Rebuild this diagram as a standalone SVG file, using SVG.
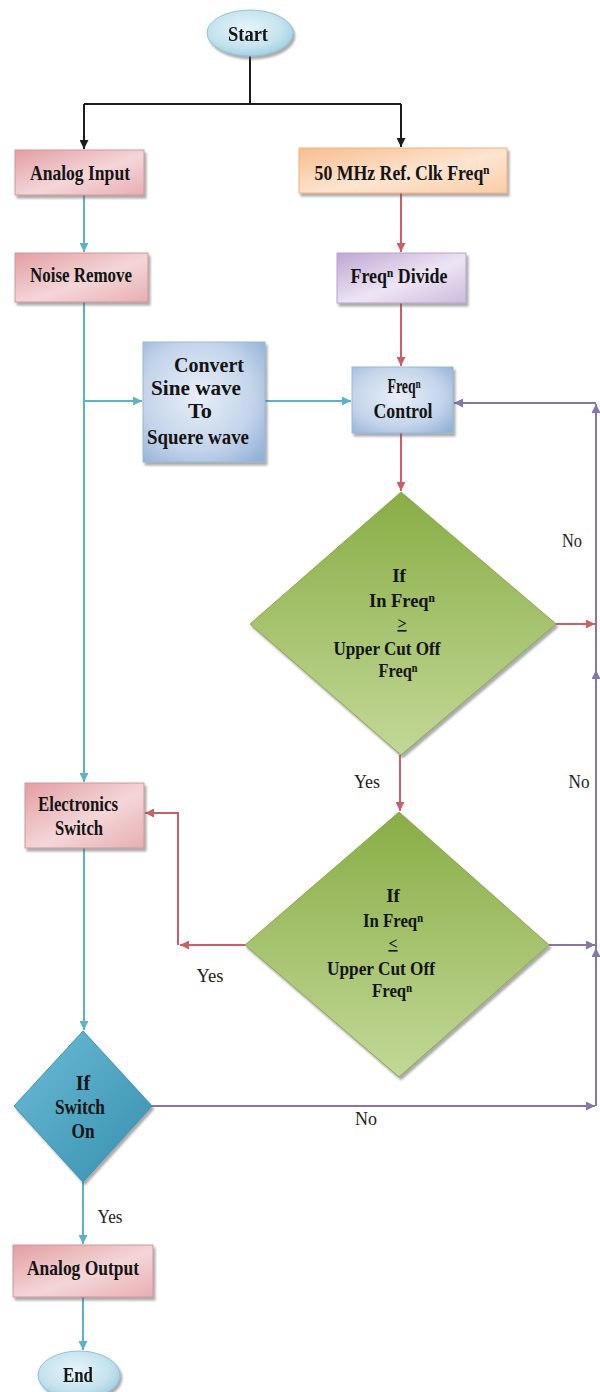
<svg xmlns="http://www.w3.org/2000/svg" width="600" height="1392" viewBox="0 0 600 1392">
  <defs>
    <style>
      .lbl{font-family:"Liberation Serif","Times New Roman",serif;font-weight:bold;font-size:21px;fill:#141414;text-anchor:middle}
      .ml{font-size:20px}
      .dm{font-size:19px}
      .op{font-size:16px;text-decoration:underline}
      .note{font-family:"Liberation Serif","Times New Roman",serif;font-size:19px;fill:#222;text-anchor:middle}
      .k{fill:none;stroke:#1c1c1c;stroke-width:2}
      .c{fill:none;stroke:#5cb3c4;stroke-width:2}
      .r{fill:none;stroke:#c95f69;stroke-width:2}
      .p{fill:none;stroke:#8676a9;stroke-width:2}
      .pink{fill:url(#gPink);stroke:#d2959a;stroke-width:1}
      .blue{fill:url(#gBlue);stroke:#9bb6d6;stroke-width:1}
      .green{fill:url(#gGreen);stroke:#8aa94e;stroke-width:1}
    </style>
    <linearGradient id="gPink" x1="0" y1="0" x2="1" y2="1">
      <stop offset="0" stop-color="#e29ea3"/>
      <stop offset="0.55" stop-color="#f4d6d7"/>
      <stop offset="1" stop-color="#e8aeb2"/>
    </linearGradient>
    <linearGradient id="gOrange" x1="0" y1="0" x2="1" y2="1">
      <stop offset="0" stop-color="#f7bd8c"/>
      <stop offset="0.55" stop-color="#fde5d0"/>
      <stop offset="1" stop-color="#f9cda6"/>
    </linearGradient>
    <linearGradient id="gPurple" x1="0" y1="0" x2="1" y2="1">
      <stop offset="0" stop-color="#bea6d3"/>
      <stop offset="0.55" stop-color="#ede5f3"/>
      <stop offset="1" stop-color="#cdbade"/>
    </linearGradient>
    <radialGradient id="gBlue" cx="0.45" cy="0.45" r="0.75">
      <stop offset="0" stop-color="#e8eff8"/>
      <stop offset="0.6" stop-color="#c3d4ea"/>
      <stop offset="1" stop-color="#8eafd6"/>
    </radialGradient>
    <linearGradient id="gGreen" x1="0" y1="0" x2="0" y2="1">
      <stop offset="0" stop-color="#89ad45"/>
      <stop offset="1" stop-color="#c2d896"/>
    </linearGradient>
    <linearGradient id="gTeal" x1="0" y1="0" x2="1" y2="1">
      <stop offset="0" stop-color="#6cbcd6"/>
      <stop offset="1" stop-color="#358fae"/>
    </linearGradient>
    <radialGradient id="gOval" cx="0.45" cy="0.4" r="0.7">
      <stop offset="0" stop-color="#e6f4f9"/>
      <stop offset="0.6" stop-color="#c4e3ee"/>
      <stop offset="1" stop-color="#93c8dc"/>
    </radialGradient>
    <filter id="sh" x="-10%" y="-10%" width="130%" height="130%">
      <feDropShadow dx="2" dy="3" stdDeviation="1.2" flood-color="#555" flood-opacity="0.5"/>
    </filter>
    <marker id="aK" viewBox="0 0 10 10" refX="10" refY="5" markerWidth="9" markerHeight="9" markerUnits="userSpaceOnUse" orient="auto">
      <path d="M0,0 L10,5 L0,10 z" fill="#1c1c1c"/>
    </marker>
    <marker id="aC" viewBox="0 0 10 10" refX="10" refY="5" markerWidth="9" markerHeight="9" markerUnits="userSpaceOnUse" orient="auto">
      <path d="M0,0 L10,5 L0,10 z" fill="#5cb3c4"/>
    </marker>
    <marker id="aR" viewBox="0 0 10 10" refX="10" refY="5" markerWidth="9" markerHeight="9" markerUnits="userSpaceOnUse" orient="auto">
      <path d="M0,0 L10,5 L0,10 z" fill="#c95f69"/>
    </marker>
    <marker id="aP" viewBox="0 0 10 10" refX="10" refY="5" markerWidth="9" markerHeight="9" markerUnits="userSpaceOnUse" orient="auto">
      <path d="M0,0 L10,5 L0,10 z" fill="#8676a9"/>
    </marker>
  </defs>

  <rect width="600" height="1392" fill="#ffffff"/>

  <!-- connectors -->
  <g id="connectors">
    <!-- start split -->
    <path class="k" d="M250,56 V104"/>
    <path class="k" d="M84,104 H401"/>
    <path class="k" d="M84,104 V149" marker-end="url(#aK)"/>
    <path class="k" d="M401,104 V147" marker-end="url(#aK)"/>
    <!-- analog path -->
    <path class="c" d="M84,195 V252" marker-end="url(#aC)"/>
    <path class="c" d="M84,302 V782" marker-end="url(#aC)"/>
    <path class="c" d="M84,401 H142" marker-end="url(#aC)"/>
    <path class="c" d="M265,401 H351" marker-end="url(#aC)"/>
    <path class="c" d="M84,848 V1030" marker-end="url(#aC)"/>
    <path class="c" d="M83,1182 V1244" marker-end="url(#aC)"/>
    <path class="c" d="M83,1297 V1350" marker-end="url(#aC)"/>
    <!-- clock path -->
    <path class="r" d="M401,193 V252" marker-end="url(#aR)"/>
    <path class="r" d="M401,303 V366" marker-end="url(#aR)"/>
    <path class="r" d="M401,433 V491" marker-end="url(#aR)"/>
    <path class="r" d="M556,624 H595" marker-end="url(#aR)"/>
    <path class="r" d="M400,755 V811" marker-end="url(#aR)"/>
    <path class="r" d="M245,945 H180" marker-end="url(#aR)"/>
    <path class="r" d="M178,945 V813 H145" marker-end="url(#aR)"/>
    <!-- feedback loop -->
    <path class="p" d="M549,945 H595" marker-end="url(#aP)"/>
    <path class="p" d="M152,1106 H595" marker-end="url(#aP)"/>
    <path class="p" d="M596,1106 V948" marker-end="url(#aP)"/>
    <path class="p" d="M596,948 V670" marker-end="url(#aP)"/>
    <path class="p" d="M596,670 V404" marker-end="url(#aP)"/>
    <path class="p" d="M596,403 H454" marker-end="url(#aP)"/>
  </g>

  <!-- edge labels -->
  <g id="labels">
    <text class="note" x="572" y="547" textLength="20" lengthAdjust="spacingAndGlyphs">No</text>
    <text class="note" x="367" y="788" textLength="26" lengthAdjust="spacingAndGlyphs">Yes</text>
    <text class="note" x="579" y="788" textLength="21" lengthAdjust="spacingAndGlyphs">No</text>
    <text class="note" x="210" y="982" textLength="27" lengthAdjust="spacingAndGlyphs">Yes</text>
    <text class="note" x="366" y="1125" textLength="22" lengthAdjust="spacingAndGlyphs">No</text>
    <text class="note" x="110" y="1223" textLength="25" lengthAdjust="spacingAndGlyphs">Yes</text>
  </g>

  <g id="start" filter="url(#sh)">
    <ellipse cx="250" cy="33" rx="43" ry="23" fill="url(#gOval)" stroke="#8fc3d6" stroke-width="1"/>
    <text class="lbl" x="248" y="41" textLength="40" lengthAdjust="spacingAndGlyphs">Start</text>
  </g>

  <g id="analog-input">
    <rect class="pink" x="15" y="150" width="129" height="45" filter="url(#sh)"/>
    <text class="lbl" x="80" y="180" textLength="100" lengthAdjust="spacingAndGlyphs">Analog Input</text>
  </g>

  <g id="ref-clock">
    <rect x="299" y="148" width="208" height="45" fill="url(#gOrange)" stroke="#efb27f" stroke-width="1" filter="url(#sh)"/>
    <text class="lbl" x="402" y="180" textLength="175" lengthAdjust="spacingAndGlyphs">50 MHz  Ref. Clk Freqⁿ</text>
  </g>

  <g id="noise-remove">
    <rect class="pink" x="15" y="253" width="133" height="49" filter="url(#sh)"/>
    <text class="lbl" x="81" y="282" textLength="102" lengthAdjust="spacingAndGlyphs">Noise Remove</text>
  </g>

  <g id="freq-divide">
    <rect x="337" y="253" width="129" height="50" fill="url(#gPurple)" stroke="#b9a3cf" stroke-width="1" filter="url(#sh)"/>
    <text class="lbl" x="399" y="283" textLength="97" lengthAdjust="spacingAndGlyphs">Freqⁿ Divide</text>
  </g>

  <g id="convert">
    <rect class="blue" x="143" y="342" width="122" height="120" filter="url(#sh)"/>
    <text class="lbl ml" x="209" y="372" textLength="70" lengthAdjust="spacingAndGlyphs">Convert</text>
    <text class="lbl ml" x="196" y="395" textLength="90" lengthAdjust="spacingAndGlyphs">Sine wave</text>
    <text class="lbl ml" x="200" y="418" textLength="24" lengthAdjust="spacingAndGlyphs">To</text>
    <text class="lbl ml" x="198" y="444" textLength="102" lengthAdjust="spacingAndGlyphs">Squere wave</text>
  </g>

  <g id="freq-control">
    <rect class="blue" x="352" y="367" width="101" height="66" filter="url(#sh)"/>
    <text class="lbl ml" x="404" y="393" textLength="33" lengthAdjust="spacingAndGlyphs">Freqⁿ</text>
    <text class="lbl ml" x="403" y="418" textLength="59" lengthAdjust="spacingAndGlyphs">Control</text>
  </g>

  <g id="check-upper">
    <polygon class="green" points="401,492 556,624 401,755 250,624" filter="url(#sh)"/>
    <text class="lbl dm" x="399" y="582">If</text>
    <text class="lbl dm" x="402" y="607" textLength="66" lengthAdjust="spacingAndGlyphs">In Freqⁿ</text>
    <text class="lbl op" x="402" y="629">&gt;</text>
    <text class="lbl dm" x="387" y="655" textLength="107" lengthAdjust="spacingAndGlyphs">Upper Cut Off</text>
    <text class="lbl dm" x="398" y="677" textLength="39" lengthAdjust="spacingAndGlyphs">Freqⁿ</text>
  </g>

  <g id="electronics-switch">
    <rect class="pink" x="25" y="783" width="119" height="65" filter="url(#sh)"/>
    <text class="lbl ml" x="78" y="811" textLength="80" lengthAdjust="spacingAndGlyphs">Electronics</text>
    <text class="lbl ml" x="79" y="835" textLength="48" lengthAdjust="spacingAndGlyphs">Switch</text>
  </g>

  <g id="check-lower">
    <polygon class="green" points="399,812 549,945 399,1077 245,945" filter="url(#sh)"/>
    <text class="lbl dm" x="393" y="902">If</text>
    <text class="lbl dm" x="393" y="927" textLength="60" lengthAdjust="spacingAndGlyphs">In Freqⁿ</text>
    <text class="lbl op" x="393" y="949">&lt;</text>
    <text class="lbl dm" x="381" y="975" textLength="108" lengthAdjust="spacingAndGlyphs">Upper Cut Off</text>
    <text class="lbl dm" x="392" y="997" textLength="40" lengthAdjust="spacingAndGlyphs">Freqⁿ</text>
  </g>

  <g id="switch-on">
    <polygon points="83,1031 152,1106 83,1182 14,1106" fill="url(#gTeal)" stroke="#3b94b3" stroke-width="1" filter="url(#sh)"/>
    <text class="lbl ml" x="83" y="1090">If</text>
    <text class="lbl ml" x="80" y="1114" textLength="50" lengthAdjust="spacingAndGlyphs">Switch</text>
    <text class="lbl ml" x="83" y="1138" textLength="23" lengthAdjust="spacingAndGlyphs">On</text>
  </g>

  <g id="analog-output">
    <rect class="pink" x="13" y="1245" width="140" height="52" filter="url(#sh)"/>
    <text class="lbl" x="83" y="1275" textLength="112" lengthAdjust="spacingAndGlyphs">Analog Output</text>
  </g>

  <g id="end" filter="url(#sh)">
    <ellipse cx="79" cy="1375" rx="41" ry="24" fill="url(#gOval)" stroke="#8fc3d6" stroke-width="1"/>
    <text class="lbl" x="78" y="1382" textLength="30" lengthAdjust="spacingAndGlyphs">End</text>
  </g>
</svg>
